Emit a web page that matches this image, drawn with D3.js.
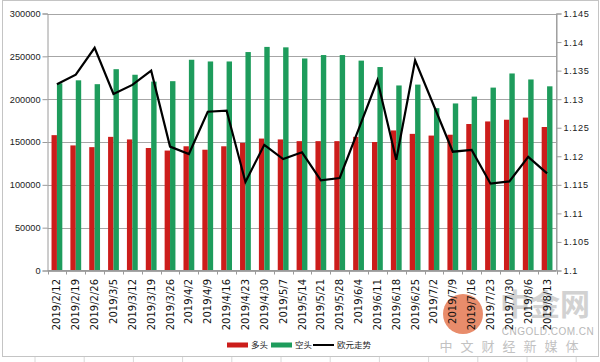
<!DOCTYPE html>
<html>
<head>
<meta charset="utf-8">
<script src="https://cdn.jsdelivr.net/npm/d3@7/dist/d3.min.js"></script>
<style>
  html, body { margin: 0; padding: 0; background: #fff; }
  svg { display: block; }
</style>
</head>
<body>
<div id="chart"></div>
<script>
"use strict";

// Weekly dates
const dates = ["2019/2/12", "2019/2/19", "2019/2/26", "2019/3/5", "2019/3/12", "2019/3/19", "2019/3/26",
    "2019/4/2", "2019/4/9", "2019/4/16", "2019/4/23", "2019/4/30", "2019/5/7", "2019/5/14",
    "2019/5/21", "2019/5/28", "2019/6/4", "2019/6/11", "2019/6/18", "2019/6/25", "2019/7/2",
    "2019/7/9", "2019/7/16", "2019/7/23", "2019/7/30", "2019/8/6", "2019/8/13"];

// 多头 (long positions)
const longPos = [158000, 146000, 144000, 156000, 153000, 143000, 140000, 145000, 141000, 145000,
    149000, 154000, 153000, 151000, 151000, 151000, 156000, 150000, 163500, 159500,
    157500, 158500, 171000, 174000, 176000, 178500, 167500];

// 空头 (short positions)
const shortPos = [218500, 222000, 217500, 235000, 228500, 220500, 221000, 246000, 244000, 244000,
    255000, 261000, 260500, 247500, 251500, 251500, 245000, 237500, 216000, 217000,
    189500, 195000, 203000, 213500, 230000, 223000, 215000];

// 欧元走势 (EUR/USD)
const euro = [1.1326, 1.1343, 1.1390, 1.1309, 1.1325, 1.1350, 1.1217, 1.1204, 1.1278, 1.1280,
    1.1155, 1.1220, 1.1195, 1.1207, 1.1158, 1.1162, 1.1247, 1.1333, 1.1194, 1.1368,
    1.1288, 1.1208, 1.1211, 1.1152, 1.1156, 1.1199, 1.1170];

const leftTicks = [0, 50000, 100000, 150000, 200000, 250000, 300000];
const rightTicks = [1.1, 1.105, 1.11, 1.115, 1.12, 1.125, 1.13, 1.135, 1.14, 1.145];

const W = 600, H = 362;
const plot = { left: 47.5, right: 556.5, top: 13.5, bottom: 270.5 };
const RED = "#cc1d1b", GREEN = "#1e9c5c";

const svg = d3.select("#chart").append("svg")
    .attr("width", W)
    .attr("height", H)
    .style("font-family", "'Liberation Sans', Arial, sans-serif");

// frame + spreadsheet strip below
svg.append("rect").attr("width", W).attr("height", H).attr("fill", "#fff");
svg.selectAll(".cell").data(d3.range(35, W, 49.2)).join("line")
    .attr("class", "cell")
    .attr("x1", d => d).attr("x2", d => d)
    .attr("y1", 357).attr("y2", H)
    .attr("stroke", "#d8d8d8");
svg.append("rect")
    .attr("x", 2.5).attr("y", 0.5).attr("width", W - 4).attr("height", 356)
    .attr("fill", "#fff").attr("stroke", "#c4c4c4");

// Scales
const x = d3.scaleBand().domain(dates).range([plot.left, plot.right]).padding(0);
const bw = x.bandwidth();
const sub = d3.scaleBand().domain(["long", "short"]).range([bw / 2 - 5.4, bw / 2 + 5.4]);
const y = d3.scaleLinear().domain([0, 300000]).range([plot.bottom, plot.top]);
const y2 = d3.scaleLinear().domain([1.1, 1.145]).range([plot.bottom, plot.top]);

// Gridlines
svg.append("g").selectAll("line").data(leftTicks).join("line")
    .attr("x1", plot.left).attr("x2", plot.right)
    .attr("y1", d => Math.round(y(d)) + 0.5).attr("y2", d => Math.round(y(d)) + 0.5)
    .attr("stroke", "#a6a6a6");
svg.append("line")
    .attr("x1", plot.right).attr("x2", plot.right)
    .attr("y1", plot.top).attr("y2", plot.bottom)
    .attr("stroke", "#a6a6a6");

// Watermark (faint)
const wm = svg.append("g").attr("pointer-events", "none");
wm.append("text").attr("x", 545).attr("y", 315).attr("text-anchor", "middle")
    .attr("font-family", "'Noto Sans CJK SC', sans-serif").attr("font-size", 30)
    .attr("font-weight", "bold").attr("fill", "#d2d2d2").text("中金网");
wm.append("text").attr("x", 548).attr("y", 335).attr("text-anchor", "middle")
    .attr("font-size", 10).attr("fill", "#b8b8b8").attr("letter-spacing", 0.5).text("CNGOLD.COM.CN");
wm.append("text").attr("x", 513).attr("y", 351).attr("text-anchor", "middle")
    .attr("font-family", "'Noto Sans CJK SC', sans-serif").attr("font-size", 13)
    .attr("fill", "#c2c2c2").attr("letter-spacing", 8).text("中文财经新媒体");
wm.append("circle").attr("cx", 463).attr("cy", 314).attr("r", 20)
    .attr("fill", "#e0663a").attr("opacity", 0.75);

// Bars
const groups = svg.append("g").selectAll("g").data(dates).join("g")
    .attr("transform", d => `translate(${x(d)},0)`);
groups.append("rect")
    .attr("x", d => sub("long"))
    .attr("width", sub.bandwidth())
    .attr("y", (d, i) => y(longPos[i]))
    .attr("height", (d, i) => y(0) - y(longPos[i]))
    .attr("fill", RED);
groups.append("rect")
    .attr("x", d => sub("short"))
    .attr("width", sub.bandwidth())
    .attr("y", (d, i) => y(shortPos[i]))
    .attr("height", (d, i) => y(0) - y(shortPos[i]))
    .attr("fill", GREEN);

// Euro line
const line = d3.line()
    .x((d, i) => x(dates[i]) + bw / 2)
    .y(d => y2(d));
svg.append("path")
    .datum(euro)
    .attr("d", line)
    .attr("fill", "none")
    .attr("stroke", "#000")
    .attr("stroke-width", 2.2)
    .attr("stroke-linejoin", "miter");

// Left axis
const leftAxis = svg.append("g")
    .attr("transform", `translate(${plot.left},0)`)
    .call(d3.axisLeft(y).tickValues(leftTicks).tickFormat(d3.format("d")).tickSize(5).tickPadding(2));
leftAxis.select(".domain").attr("stroke", "#9a9a9a");
leftAxis.selectAll(".tick line").attr("stroke", "#9a9a9a");
leftAxis.selectAll("text").attr("font-size", 9.2).attr("fill", "#222").attr("font-family", "'Liberation Sans', Arial, sans-serif");

// Right axis
const rightAxis = svg.append("g")
    .attr("transform", `translate(${plot.right},0)`)
    .call(d3.axisRight(y2).tickValues(rightTicks).tickFormat(d => String(+d.toFixed(3))).tickSize(5).tickPadding(2));
rightAxis.select(".domain").attr("stroke", "#9a9a9a");
rightAxis.selectAll(".tick line").attr("stroke", "#9a9a9a");
rightAxis.selectAll("text").attr("font-size", 9.2).attr("fill", "#222")
    .attr("letter-spacing", 0.6).attr("font-family", "'Liberation Sans', Arial, sans-serif");

// Bottom axis: ticks at band edges, rotated labels
const edges = dates.map(d => x(d)).concat([plot.right]);
svg.append("line")
    .attr("x1", plot.left).attr("x2", plot.right)
    .attr("y1", plot.bottom).attr("y2", plot.bottom)
    .attr("stroke", "#9a9a9a");
svg.append("g").selectAll("line").data(edges).join("line")
    .attr("x1", d => Math.round(d) + 0.5).attr("x2", d => Math.round(d) + 0.5)
    .attr("y1", plot.bottom).attr("y2", plot.bottom + 4)
    .attr("stroke", "#9a9a9a");
svg.append("g").selectAll("text").data(dates).join("text")
    .attr("transform", d => `translate(${x(d) + bw / 2},279) rotate(-90)`)
    .attr("text-anchor", "end")
    .attr("dy", "0.35em")
    .attr("font-family", "'DejaVu Sans', sans-serif")
    .attr("font-size", 10)
    .attr("fill", "#111")
    .text(d => d);

// Legend
const legendItems = [
    { name: "多头", color: RED, type: "rect", x: 227 },
    { name: "空头", color: GREEN, type: "rect", x: 271 },
    { name: "欧元走势", color: "#000", type: "line", x: 313 }
];
const legend = svg.append("g").selectAll("g").data(legendItems).join("g")
    .attr("transform", d => `translate(${d.x},345)`);
legend.filter(d => d.type === "rect").append("rect")
    .attr("x", 0).attr("y", -2.5).attr("width", 21).attr("height", 5)
    .attr("fill", d => d.color);
legend.filter(d => d.type === "line").append("line")
    .attr("x1", 0).attr("x2", 21).attr("y1", 0).attr("y2", 0)
    .attr("stroke", "#000").attr("stroke-width", 2);
legend.append("text")
    .attr("x", 24).attr("dy", "0.35em")
    .attr("font-family", "'Noto Sans CJK SC', sans-serif")
    .attr("font-size", 8.5)
    .attr("fill", "#222")
    .text(d => d.name);
</script>
</body>
</html>
